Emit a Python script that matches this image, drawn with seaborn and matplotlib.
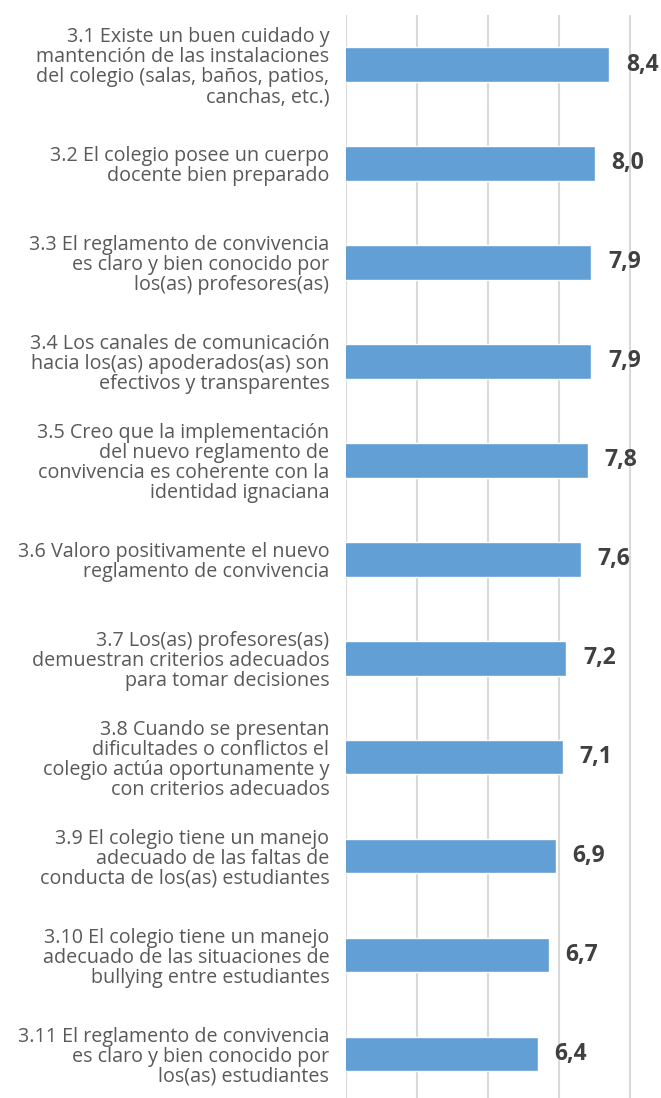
import matplotlib
matplotlib.use("Agg")
import matplotlib.pyplot as plt
import seaborn as sns
import pandas as pd

labels = [
    "3.1 Existe un buen cuidado y\nmantención de las instalaciones\ndel colegio (salas, baños, patios,\ncanchas, etc.)",
    "3.2 El colegio posee un cuerpo\ndocente bien preparado",
    "3.3 El reglamento de convivencia\nes claro y bien conocido por\nlos(as) profesores(as)",
    "3.4 Los canales de comunicación\nhacia los(as) apoderados(as) son\nefectivos y transparentes",
    "3.5 Creo que la implementación\ndel nuevo reglamento de\nconvivencia es coherente con la\nidentidad ignaciana",
    "3.6 Valoro positivamente el nuevo\nreglamento de convivencia",
    "3.7 Los(as) profesores(as)\ndemuestran criterios adecuados\npara tomar decisiones",
    "3.8 Cuando se presentan\ndificultades o conflictos el\ncolegio actúa oportunamente y\ncon criterios adecuados",
    "3.9 El colegio tiene un manejo\nadecuado de las faltas de\nconducta de los(as) estudiantes",
    "3.10 El colegio tiene un manejo\nadecuado de las situaciones de\nbullying entre estudiantes",
    "3.11 El reglamento de convivencia\nes claro y bien conocido por\nlos(as) estudiantes",
]
values = [8.4, 8.0, 7.9, 7.9, 7.8, 7.6, 7.2, 7.1, 6.9, 6.7, 6.4]
grid_ticks = [1, 3, 5, 7, 9]

sns.set_theme(style="white")
plt.rcParams['font.family'] = ['Open Sans', 'DejaVu Sans']

fig = plt.figure(figsize=(6.61, 10.98), dpi=100)
ax = fig.add_axes([0.5234, -0.005, 0.4766, 0.9913])

df = pd.DataFrame({"label": labels, "value": values})
sns.barplot(data=df, x="value", y="label", orient="h", color="#629fd5",
            saturation=1, width=0.35, ax=ax)

ax.set_xlim(1, 9.86)
ax.set_xticks(grid_ticks)
ax.set_xticklabels([])
ax.grid(axis="x", color="#d9d9d9", linewidth=1.5)
ax.set_axisbelow(True)
for s in ax.spines.values():
    s.set_visible(False)
ax.set_xlabel("")
ax.set_ylabel("")
ax.tick_params(axis="both", length=0)
ax.tick_params(axis="y", pad=12)
for t in ax.get_yticklabels():
    t.set_fontsize(14.2)
    t.set_color("#595959")
    t.set_linespacing(1.0)
    t.set_horizontalalignment("right")

for i, v in enumerate(values):
    ax.annotate(f"{v:.1f}".replace(".", ","), xy=(v, i), xytext=(12, 0),
                textcoords="offset points", va="center", ha="left",
                fontsize=16.5, fontweight="bold", color="#404040")

fig.savefig("out.png", dpi=100)
